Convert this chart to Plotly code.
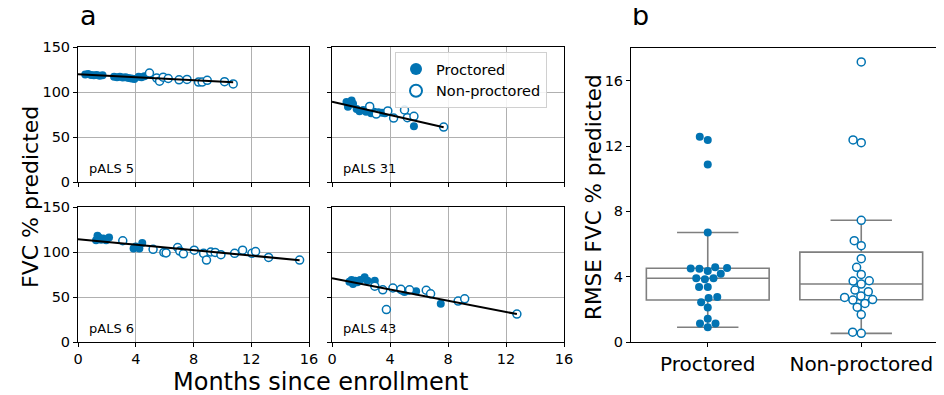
import numpy as np
import plotly.graph_objects as go

# ---------------- data ----------------
panel_names = ["pALS 5", "pALS 31", "pALS 6", "pALS 43"]

p5_proc_x = [0.5, 0.7, 0.9, 1.1, 1.3, 1.5, 1.7, 2.5, 2.7, 2.9, 3.1, 3.3, 3.5, 3.7, 3.9, 4.2, 4.4, 4.6]
p5_proc_y = [119.5, 120, 119, 118.5, 119, 118, 118.5, 117, 116.5, 117, 116, 116.5, 115.5, 115, 114.5, 117, 116.5, 117.5]
p5_non_x = [4.95, 5.45, 5.65, 5.9, 6.25, 7.0, 7.55, 8.35, 8.6, 8.95, 10.15, 10.75]
p5_non_y = [121, 115.5, 112, 116.5, 115, 113.5, 114, 111, 111, 113, 111.5, 109]

p31_proc_x = [1.0, 1.1, 1.35, 1.45, 1.7, 1.9, 2.15, 2.35, 2.7, 2.9, 3.2, 3.45, 3.65, 5.65]
p31_proc_y = [89, 83.5, 90.5, 87, 81, 78.5, 80, 78, 76.5, 78, 77.5, 77, 76.5, 62]
p31_non_x = [2.6, 3.05, 3.85, 4.25, 5.0, 5.2, 5.65, 7.7]
p31_non_y = [84, 75.5, 79, 71, 80, 71.5, 73, 61]

p6_proc_x = [1.25, 1.35, 1.45, 1.6, 1.75, 1.95, 2.15, 3.85, 4.0, 4.25, 4.45]
p6_proc_y = [113, 118, 116, 113.5, 115, 113, 116, 104, 106, 104, 110]
p6_non_x = [3.1, 5.2, 5.95, 6.1, 6.9, 7.05, 7.3, 8.05, 8.7, 8.9, 9.2, 9.5, 9.9, 10.85, 11.4, 12.05, 12.3, 13.2, 15.35]
p6_non_y = [112.5, 103, 99.5, 99, 105, 101, 98, 102, 98.5, 91, 100, 99.5, 97, 98.5, 102, 98.5, 100.5, 94, 91]

p43_proc_x = [1.2, 1.35, 1.45, 1.6, 1.75, 1.95, 2.25, 2.45, 2.95, 4.85, 5.0, 5.25, 5.8, 7.5]
p43_proc_y = [67, 69, 64.5, 68, 66.5, 69, 72, 68, 68, 57, 55.5, 57, 56.5, 42.5]
p43_non_x = [2.95, 3.5, 3.75, 4.2, 4.75, 5.35, 6.5, 6.8, 8.7, 9.15, 12.75]
p43_non_y = [62, 58, 36, 60, 58.5, 58, 57.5, 53.5, 45.5, 48, 31]

fit_intercepts = [119.7, 89.2, 114.1, 70.8]
fit_slopes = [-0.83, -3.68, -1.51, -3.12]

rmse_proctored = [12.57, 12.37, 10.87, 6.7, 4.49, 4.5, 4.35, 4.53, 4.57, 4.18, 3.9, 3.84, 3.9,
                  3.36, 3.36, 2.7, 2.75, 2.44, 2.11, 1.43, 1.13, 1.13, 0.9]
rmse_nonproctored = [17.15, 12.37, 12.2, 7.45, 6.2, 5.9, 5.1, 4.57, 4.14, 3.75, 3.73, 3.55,
                     3.18, 3.08, 2.73, 2.6, 2.36, 2.57, 2.81, 2.13, 1.68, 0.6, 0.53]
group_labels = ["Proctored", "Non-proctored"]

x_ticks = [0, 4, 8, 12, 16]
y_ticks = [0, 50, 100, 150]
rmse_ticks = [0, 4, 8, 12, 16]

# ---------------- style ----------------
BLUE = "#0173b2"
GRID = "#b0b0b0"
FONT = "DejaVu Sans"
OFF = 8                     # page body margin of the html page
W, H = 944 - OFF, 395 - OFF
TICK = 14.5
TITLE = 22


def px_x(a):
    return (a - OFF) / W


def px_y(a):
    return (H - (a - OFF)) / H


def xd(a, b):
    return [px_x(a), px_x(b)]


def yd(top, bottom):
    return [px_y(bottom), px_y(top)]


fig = go.Figure()

panels = [
    (p5_proc_x, p5_proc_y, p5_non_x, p5_non_y),
    (p31_proc_x, p31_proc_y, p31_non_x, p31_non_y),
    (p6_proc_x, p6_proc_y, p6_non_x, p6_non_y),
    (p43_proc_x, p43_proc_y, p43_non_x, p43_non_y),
]
domains = [
    (xd(78, 309), yd(47, 182)),
    (xd(332, 564), yd(47, 182)),
    (xd(78, 309), yd(207, 342)),
    (xd(332, 564), yd(207, 342)),
]

layout = dict(
    width=W, height=H, autosize=False, template="none",
    margin=dict(l=0, r=0, t=0, b=0, pad=0),
    paper_bgcolor="white", plot_bgcolor="white",
    font=dict(family=FONT, color="black", size=14),
    boxmode="overlay",
    showlegend=True,
    legend=dict(
        x=px_x(395), y=px_y(52), xanchor="left", yanchor="top",
        bgcolor="rgba(255,255,255,0.85)", bordercolor="#d0d0d0", borderwidth=1,
        font=dict(size=14.5, family=FONT), tracegroupgap=0, itemsizing="constant",
        entrywidth=106, entrywidthmode="pixels",
    ),
)

annotations = []
for i, (px, py, nx, ny) in enumerate(panels):
    k = i + 1
    xa = "x" if k == 1 else f"x{k}"
    ya = "y" if k == 1 else f"y{k}"
    fig.add_trace(go.Scatter(
        x=px, y=py, mode="markers", xaxis=xa, yaxis=ya,
        name="Proctored", showlegend=(i == 0), legendgroup="p",
        marker=dict(size=8, color=BLUE, line=dict(width=0)),
    ))
    fig.add_trace(go.Scatter(
        x=nx, y=ny, mode="markers", xaxis=xa, yaxis=ya,
        name="Non-proctored", showlegend=(i == 0), legendgroup="n",
        marker=dict(size=8, color="white", line=dict(width=1.5, color=BLUE)),
    ))
    xmax = max(max(px), max(nx))
    lx = np.array([0.0, xmax])
    fig.add_trace(go.Scatter(
        x=lx, y=fit_intercepts[i] + fit_slopes[i] * lx, mode="lines",
        xaxis=xa, yaxis=ya, showlegend=False,
        line=dict(color="black", width=2),
    ))
    xdom, ydom = domains[i]
    top = i < 2
    left = i % 2 == 0
    layout["xaxis" if k == 1 else f"xaxis{k}"] = dict(
        domain=xdom, anchor=ya, range=[0, 16], tickvals=x_ticks,
        showticklabels=not top, ticks="outside", ticklen=4, tickcolor="black",
        showgrid=True, gridcolor=GRID, gridwidth=1, zeroline=False,
        showline=True, mirror=True, linecolor="black", linewidth=1,
        tickfont=dict(size=TICK), automargin=False,
    )
    layout["yaxis" if k == 1 else f"yaxis{k}"] = dict(
        domain=ydom, anchor=xa, range=[0, 150], tickvals=y_ticks,
        showticklabels=left, ticks="outside", ticklen=4, tickcolor="black",
        showgrid=True, gridcolor=GRID, gridwidth=1, zeroline=False,
        showline=True, mirror=True, linecolor="black", linewidth=1,
        tickfont=dict(size=TICK), automargin=False,
    )
    annotations.append(dict(
        text=panel_names[i], xref=f"{xa} domain", yref=f"{ya} domain",
        x=0.04, y=0.1, xanchor="left", yanchor="middle", showarrow=False,
        font=dict(size=13),
    ))

# ---------------- box + swarm panel ----------------
PX_PER_Y = (342 - 48) / 18.0
PX_PER_CAT = 154.0
DIAM = 8.3


def swarm_offsets(values):
    vals = np.asarray(values, float)
    order = np.argsort(vals, kind="stable")
    placed = []
    offs = np.zeros(len(vals))
    for idx in order:
        y = vals[idx] * PX_PER_Y
        neigh = [(xo, yo) for xo, yo in placed if abs(yo - y) < DIAM]
        cands = [0.0]
        left_first = True
        for xo, yo in neigh:
            dx = np.sqrt(max(DIAM ** 2 - (y - yo) ** 2, 0)) * 1.05
            pair = [xo - dx, xo + dx] if left_first else [xo + dx, xo - dx]
            cands.extend(pair)
            left_first = not left_first
        cands = sorted(cands, key=lambda c: abs(c))
        chosen = cands[-1]
        for c in cands:
            if all((c - xo) ** 2 + (y - yo) ** 2 >= (DIAM ** 2) * 0.999 for xo, yo in neigh):
                chosen = c
                break
        placed.append((chosen, y))
        offs[idx] = chosen / PX_PER_CAT
    return offs


for gi, vals in enumerate([rmse_proctored, rmse_nonproctored]):
    v = np.asarray(vals, float)
    q1, med, q3 = np.percentile(v, [25, 50, 75])
    iqr = q3 - q1
    lo = v[v >= q1 - 1.5 * iqr].min()
    hi = v[v <= q3 + 1.5 * iqr].max()
    fig.add_trace(go.Box(
        x=[gi], q1=[q1], median=[med], q3=[q3], lowerfence=[lo], upperfence=[hi],
        width=0.8, whiskerwidth=0.5, fillcolor="rgba(255,255,255,0)",
        line=dict(color="#7f7f7f", width=1.6), boxpoints=False,
        xaxis="x5", yaxis="y5", showlegend=False, hoverinfo="skip",
    ))

for gi, vals in enumerate([rmse_proctored, rmse_nonproctored]):
    offs = swarm_offsets(vals)
    filled = gi == 0
    fig.add_trace(go.Scatter(
        x=gi + offs, y=vals, mode="markers", xaxis="x5", yaxis="y5", showlegend=False,
        marker=dict(size=8, color=BLUE if filled else "white",
                    line=dict(width=0 if filled else 1.5, color=BLUE)),
    ))

layout["xaxis5"] = dict(
    domain=xd(631, 938), anchor="y5", range=[-0.5, 1.5], tickvals=[0, 1],
    ticktext=group_labels, ticks="outside", ticklen=4, tickcolor="black",
    showgrid=False, zeroline=False, showline=True, mirror=True,
    linecolor="black", linewidth=1, tickfont=dict(size=20), automargin=False,
)
layout["yaxis5"] = dict(
    domain=yd(48, 342), anchor="x5", range=[0, 18], tickvals=rmse_ticks,
    ticks="outside", ticklen=4, tickcolor="black",
    showgrid=False, zeroline=False, showline=True, mirror=True,
    linecolor="black", linewidth=1, tickfont=dict(size=TICK), automargin=False,
)

# ---------------- titles ----------------
annotations += [
    dict(text="a", x=px_x(88), y=px_y(16), xref="paper", yref="paper",
         showarrow=False, font=dict(size=27), xanchor="center", yanchor="middle"),
    dict(text="b", x=px_x(640), y=px_y(16), xref="paper", yref="paper",
         showarrow=False, font=dict(size=27), xanchor="center", yanchor="middle"),
    dict(text="FVC % predicted", x=px_x(30), y=px_y(197), xref="paper", yref="paper",
         showarrow=False, font=dict(size=TITLE), textangle=-90, xanchor="center", yanchor="middle"),
    dict(text="RMSE FVC % predicted", x=px_x(593), y=px_y(197), xref="paper", yref="paper",
         showarrow=False, font=dict(size=TITLE - 0.5), textangle=-90, xanchor="center", yanchor="middle"),
    dict(text="Months since enrollment", x=px_x(320), y=px_y(382), xref="paper", yref="paper",
         showarrow=False, font=dict(size=24), xanchor="center", yanchor="middle"),
]
layout["annotations"] = annotations

fig.update_layout(**layout)
fig.write_html("out.html")
